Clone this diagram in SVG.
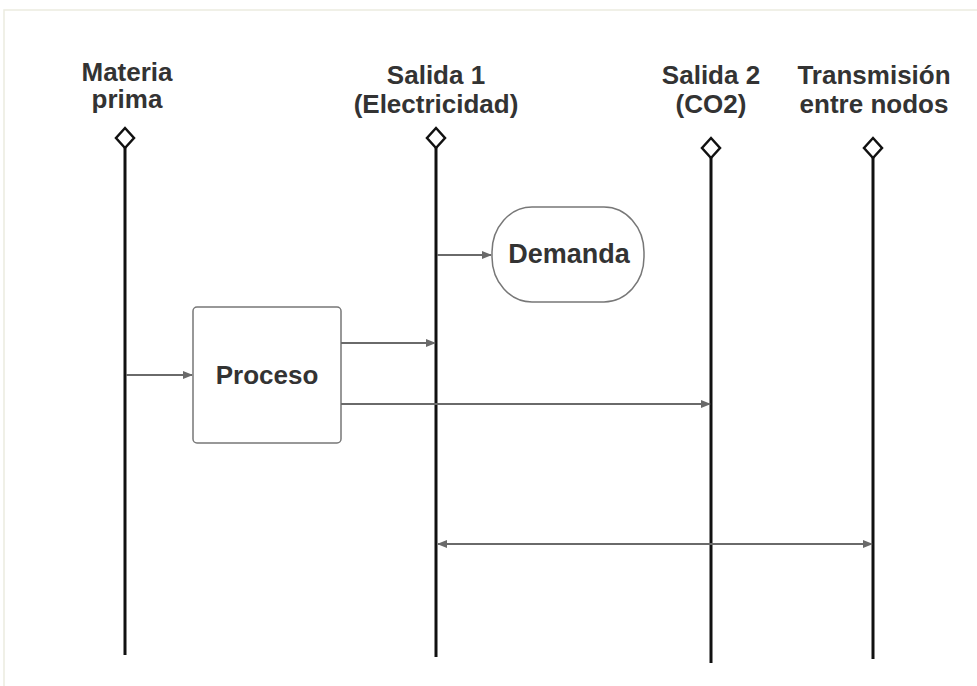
<svg xmlns="http://www.w3.org/2000/svg" width="977" height="686" viewBox="0 0 977 686">
<defs>
<style>
.t{font-family:"Liberation Sans",Arial,sans-serif;font-weight:bold;font-size:26px;fill:#333;text-anchor:middle}
.life{stroke:#111;stroke-width:3;fill:none}
.dia{stroke:#111;stroke-width:2.5;fill:#fff}
.conn{stroke:#6a6a6a;stroke-width:2;fill:none}
.box{stroke:#777;stroke-width:1.5;fill:#fff}
</style>
<marker id="ah" markerWidth="10" markerHeight="8" refX="9" refY="4" orient="auto" markerUnits="userSpaceOnUse">
<path d="M0,0 L10,4 L0,8 Z" fill="#6a6a6a"/>
</marker>
<marker id="as" markerWidth="10" markerHeight="8" refX="1" refY="4" orient="auto" markerUnits="userSpaceOnUse">
<path d="M10,0 L0,4 L10,8 Z" fill="#6a6a6a"/>
</marker>
</defs>
<rect width="977" height="686" fill="#fff"/>
<rect x="4" y="10" width="1000" height="700" fill="none" stroke="#ecebdf" stroke-width="1.5"/>

<g id="materia">
<text class="t" x="127" y="81">Materia</text>
<text class="t" x="127" y="108">prima</text>
<line class="life" x1="125" y1="147" x2="125" y2="655"/>
<path class="dia" d="M125,128 L134,138 L125,148 L116,138 Z"/>
</g>
<g id="salida1">
<text class="t" x="436" y="84">Salida 1</text>
<text class="t" x="436" y="113">(Electricidad)</text>
<line class="life" x1="436" y1="147" x2="436" y2="657"/>
<path class="dia" d="M436,128 L445,138 L436,148 L427,138 Z"/>
</g>
<g id="salida2">
<text class="t" x="711" y="84">Salida 2</text>
<text class="t" x="711" y="113">(CO2)</text>
<line class="life" x1="711" y1="157" x2="711" y2="663"/>
<path class="dia" d="M711,138 L720,148 L711,158 L702,148 Z"/>
</g>
<g id="transmision">
<text class="t" x="874" y="84">Transmisión</text>
<text class="t" x="874" y="113">entre nodos</text>
<line class="life" x1="873" y1="157" x2="873" y2="659"/>
<path class="dia" d="M873,138 L882,148 L873,158 L864,148 Z"/>
</g>
<g id="demanda">
<rect class="box" x="492" y="207" width="152" height="95" rx="40" ry="45"/>
<text class="t" x="569" y="263" style="font-size:27px">Demanda</text>
</g>
<g id="proceso">
<rect class="box" x="193" y="307" width="148" height="136" rx="4"/>
<text class="t" x="267" y="384">Proceso</text>
</g>
<g id="connectors">
<line class="conn" x1="126" y1="375" x2="192" y2="375" marker-end="url(#ah)"/>
<line class="conn" x1="437" y1="255" x2="491" y2="255" marker-end="url(#ah)"/>
<line class="conn" x1="341" y1="343" x2="435" y2="343" marker-end="url(#ah)"/>
<line class="conn" x1="341" y1="404" x2="710" y2="404" marker-end="url(#ah)"/>
<line class="conn" x1="438" y1="544" x2="872" y2="544" marker-start="url(#as)" marker-end="url(#ah)"/>
</g>
</svg>
